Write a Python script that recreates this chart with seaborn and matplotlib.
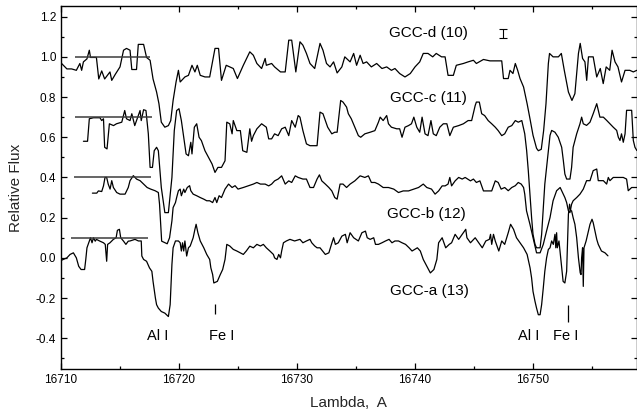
import matplotlib
matplotlib.use("Agg")
import matplotlib.pyplot as plt
import seaborn as sns
import pandas as pd
from matplotlib.ticker import MultipleLocator, FormatStrFormatter

# ---------------- data ----------------
d_x = [16710.0, 16710.5, 16710.9, 16711.3, 16711.6, 16711.75, 16711.9, 16712.2, 16712.4, 16712.5,
       16713.0, 16713.2, 16713.45, 16713.7, 16714.15, 16714.3, 16714.6, 16715.0, 16715.3, 16715.55,
       16715.85, 16716.0, 16716.4, 16716.55, 16717.0, 16717.25, 16717.55, 16717.8, 16718.1, 16718.3,
       16718.5, 16718.8, 16719.1, 16719.3, 16719.5, 16719.75, 16719.95, 16720.1, 16720.5, 16720.8,
       16721.1, 16721.35, 16721.55, 16721.8, 16722.2, 16722.6, 16723.05, 16723.35, 16723.6, 16724.0,
       16724.6, 16724.95, 16725.45, 16726.0, 16726.3, 16726.6, 16727.0, 16727.3, 16727.4, 16727.85,
       16728.1, 16728.6, 16729.0, 16729.3, 16729.55, 16729.9, 16730.25, 16730.5, 16730.8, 16731.1,
       16731.5, 16731.95, 16732.2, 16732.5, 16732.8, 16733.1, 16733.4, 16733.8, 16734.05, 16734.5,
       16734.8, 16735.05, 16735.35, 16735.6, 16735.9, 16736.3, 16736.75, 16737.2, 16737.6, 16738.0,
       16738.3, 16738.7, 16739.15, 16739.6, 16740.0, 16740.4, 16740.7, 16741.1, 16741.5, 16741.8,
       16742.25, 16742.55, 16742.8, 16743.25, 16743.5, 16744.1, 16744.5, 16744.95, 16745.2, 16745.8,
       16746.35, 16747.35, 16747.5, 16747.9, 16748.05, 16748.3, 16748.5, 16748.7, 16748.9, 16749.2,
       16749.5, 16749.75, 16750.0, 16750.3, 16750.45, 16750.7, 16750.9, 16751.1, 16751.3, 16751.4,
       16751.7, 16752.15, 16752.4, 16752.65, 16753.0, 16753.3, 16753.55, 16753.7, 16753.85, 16754.0,
       16754.2, 16754.4, 16754.55, 16754.7, 16755.1, 16755.4, 16755.7, 16755.95, 16756.2, 16756.5,
       16756.7, 16756.95, 16757.2, 16757.5, 16757.8, 16758.2, 16758.5, 16758.8]
d_y = [0.97, 0.94, 0.94, 0.933, 0.967, 0.933, 0.975, 0.99, 1.033, 0.997,
       0.997, 0.89, 0.93, 0.89, 0.925, 0.883, 0.913, 0.95, 1.033, 1.042,
       1.033, 0.937, 0.937, 1.062, 1.062, 0.997, 0.983, 0.89, 0.825, 0.767,
       0.675, 0.65, 0.658, 0.683, 0.783, 0.875, 0.933, 0.875, 0.9, 0.908,
       0.958, 0.925, 0.958, 0.908, 0.9, 0.9, 1.042, 1.042, 0.883, 0.958,
       0.942, 0.892, 0.958, 1.025, 1.008, 0.967, 0.942, 0.992, 0.958, 0.967,
       0.95, 0.925, 0.925, 1.083, 1.083, 0.925, 1.075, 1.058, 1.017, 0.967,
       0.942, 1.067, 1.033, 0.967, 0.95, 0.975, 0.92, 0.95, 1.0, 0.975,
       1.017, 0.958, 1.008, 0.967, 0.975, 0.95, 0.967, 0.942, 0.95, 0.933,
       0.942, 0.917, 0.9, 0.917, 0.95, 0.975, 1.017, 1.017, 1.0, 1.017,
       1.0, 1.0, 0.908, 0.908, 0.958, 0.967, 0.975, 0.983, 0.967, 0.987,
       0.98, 0.98, 0.892, 0.892, 0.933, 0.917, 0.967, 0.933, 0.892, 0.85,
       0.767, 0.69, 0.61, 0.545, 0.533, 0.54, 0.633, 0.767, 0.967, 1.017,
       1.0, 1.0, 1.017, 0.933, 0.825, 0.783, 0.817, 0.917, 1.017, 1.067,
       0.992, 0.975, 0.883, 1.0, 1.0, 0.9, 0.942, 0.867, 0.95, 0.933,
       1.033, 0.975, 0.95, 0.875, 0.933, 0.933, 0.925, 0.933]

c_x = [16711.9, 16712.25, 16712.4, 16712.75, 16713.3, 16713.45, 16713.6, 16713.7, 16713.9, 16714.1,
       16714.45, 16714.7, 16715.15, 16715.4, 16715.55, 16715.85, 16716.0, 16716.25, 16716.45, 16716.7,
       16716.8, 16717.0, 16717.2, 16717.4, 16717.55, 16717.75, 16717.9, 16718.1, 16718.25, 16718.5,
       16718.8, 16719.1, 16719.4, 16719.6, 16719.8, 16720.0, 16720.2, 16720.4, 16720.6, 16720.8,
       16721.0, 16721.1, 16721.3, 16721.5, 16721.7, 16721.9, 16722.2, 16722.5, 16722.8, 16723.05,
       16723.3, 16723.6, 16723.9, 16724.05, 16724.3, 16724.5, 16724.6, 16724.9, 16725.2, 16725.4,
       16725.75, 16726.0, 16726.15, 16726.3, 16726.6, 16727.0, 16727.4, 16727.6, 16727.85, 16728.1,
       16728.4, 16728.7, 16729.0, 16729.3, 16729.55, 16729.85, 16730.1, 16730.25, 16730.5, 16730.8,
       16731.1, 16731.7, 16731.95, 16732.2, 16732.6, 16732.95, 16733.2, 16733.4, 16733.7, 16733.9,
       16734.2, 16734.35, 16734.6, 16734.9, 16735.2, 16735.4, 16735.75, 16736.2, 16736.6, 16736.9,
       16737.05, 16737.3, 16737.6, 16737.75, 16738.0, 16738.45, 16738.7, 16738.9, 16739.15, 16739.45,
       16739.7, 16739.9, 16740.15, 16740.4, 16740.6, 16740.85, 16741.1, 16741.35, 16741.55, 16741.8,
       16742.1, 16742.4, 16742.7, 16742.95, 16743.25, 16743.7, 16744.1, 16744.5, 16744.8, 16745.1,
       16745.2, 16745.45, 16745.65, 16745.9, 16746.2, 16746.5, 16746.8, 16747.05, 16747.35, 16747.6,
       16747.9, 16748.2, 16748.5, 16748.75, 16749.05, 16749.3, 16749.46, 16749.6, 16749.74, 16749.88,
       16750.0, 16750.17, 16750.3, 16750.6, 16750.73, 16750.87, 16751.0, 16751.3, 16751.44, 16751.58,
       16751.86, 16752.14, 16752.43, 16752.57, 16752.7, 16752.85, 16753.13, 16753.27, 16753.4, 16753.7,
       16753.98, 16754.12, 16754.26, 16754.54, 16754.83, 16755.1, 16755.25, 16755.4, 16755.53, 16755.67,
       16755.96, 16756.24, 16756.52, 16756.8, 16757.09, 16757.23, 16757.37, 16757.5, 16757.65, 16757.8,
       16757.93, 16758.36, 16758.5, 16758.64, 16758.8]
c_y = [0.58, 0.58, 0.692, 0.697, 0.697, 0.683, 0.692, 0.55, 0.542, 0.667,
       0.658, 0.667, 0.675, 0.733, 0.692, 0.683, 0.717, 0.658, 0.692, 0.733,
       0.683, 0.737, 0.733, 0.617, 0.45, 0.45, 0.533, 0.55, 0.533, 0.35,
       0.225, 0.225, 0.4, 0.633, 0.733, 0.742, 0.683, 0.6, 0.517, 0.508,
       0.575, 0.517, 0.65, 0.667, 0.6, 0.583, 0.533, 0.5, 0.467, 0.425,
       0.45, 0.45, 0.483, 0.675, 0.667, 0.617, 0.683, 0.633, 0.633, 0.533,
       0.525, 0.642, 0.58, 0.608, 0.642, 0.667, 0.65, 0.592, 0.592, 0.617,
       0.608, 0.642, 0.65, 0.608, 0.683, 0.65, 0.708, 0.7, 0.633, 0.567,
       0.558, 0.558, 0.725, 0.717, 0.65, 0.617, 0.625, 0.625, 0.783, 0.775,
       0.75, 0.717, 0.692, 0.65, 0.608, 0.6, 0.617, 0.625, 0.633, 0.675,
       0.7, 0.683, 0.708, 0.667, 0.65, 0.642, 0.642, 0.6, 0.65, 0.658,
       0.667, 0.7, 0.65, 0.625, 0.7, 0.617, 0.608, 0.683, 0.617, 0.608,
       0.65, 0.667, 0.667, 0.608, 0.65, 0.658, 0.667, 0.683, 0.683, 0.758,
       0.775, 0.775, 0.717, 0.708, 0.683, 0.667, 0.65, 0.633, 0.608, 0.617,
       0.65, 0.658, 0.683, 0.675, 0.683, 0.617, 0.534, 0.434, 0.317, 0.2,
       0.117, 0.067, 0.05, 0.05, 0.117, 0.25, 0.367, 0.534, 0.609, 0.634,
       0.625, 0.6, 0.55, 0.484, 0.417, 0.392, 0.392, 0.45, 0.55, 0.617,
       0.667, 0.7, 0.667, 0.659, 0.675, 0.717, 0.742, 0.767, 0.734, 0.7,
       0.7, 0.684, 0.667, 0.65, 0.634, 0.6, 0.584, 0.617, 0.575, 0.617,
       0.734, 0.734, 0.584, 0.55, 0.534]

b_x = [16712.66, 16713.03, 16713.17, 16713.45, 16713.6, 16713.73, 16713.87, 16714.0, 16714.16, 16714.3,
       16714.44, 16714.72, 16715.0, 16715.43, 16715.7, 16715.85, 16716.13, 16716.4, 16716.7, 16717.0,
       16717.3, 16717.6, 16717.97, 16718.25, 16718.35, 16718.45, 16718.53, 16719.0, 16719.2, 16719.4,
       16719.5, 16719.7, 16719.8, 16719.95, 16720.1, 16720.2, 16720.4, 16720.5, 16720.7, 16720.9,
       16721.0, 16721.2, 16721.5, 16721.8, 16722.1, 16722.35, 16722.6, 16722.85, 16723.05, 16723.2,
       16723.4, 16723.6, 16723.9, 16724.2, 16724.5, 16724.75, 16725.0, 16725.45, 16725.9, 16726.3,
       16726.6, 16726.9, 16727.3, 16727.6, 16727.85, 16728.1, 16728.4, 16728.7, 16729.0, 16729.3,
       16729.55, 16729.85, 16730.1, 16730.5, 16730.8, 16731.1, 16731.4, 16731.7, 16731.9, 16732.1,
       16732.4, 16732.7, 16732.95, 16733.2, 16733.4, 16733.65, 16733.9, 16734.2, 16734.5, 16734.9,
       16735.35, 16735.75, 16736.05, 16736.3, 16736.6, 16736.9, 16737.3, 16737.75, 16738.2, 16738.6,
       16739.0, 16739.45, 16739.9, 16740.3, 16740.7, 16741.0, 16741.4, 16741.7, 16742.0, 16742.3,
       16742.55, 16742.8, 16742.95, 16743.1, 16743.4, 16743.7, 16744.0, 16744.25, 16744.7, 16744.95,
       16745.2, 16745.5, 16745.8, 16746.2, 16746.5, 16746.8, 16747.05, 16747.3, 16747.6, 16747.9,
       16748.2, 16748.5, 16748.75, 16749.0, 16749.2, 16749.3, 16749.45, 16749.74, 16750.0, 16750.17,
       16750.3, 16750.6, 16750.87, 16751.15, 16751.44, 16751.7, 16752.0, 16752.3, 16752.43, 16752.7,
       16752.85, 16753.0, 16753.13, 16753.27, 16753.4, 16753.7, 16753.98, 16754.26, 16754.54, 16754.83,
       16755.1, 16755.4, 16755.53, 16755.96, 16756.24, 16756.38, 16756.52, 16756.8, 16757.23, 16757.65,
       16757.93, 16758.07, 16758.36, 16758.8]
b_y = [0.322, 0.322, 0.333, 0.33, 0.358, 0.4, 0.4, 0.367, 0.342, 0.384,
       0.35, 0.325, 0.317, 0.317, 0.35, 0.384, 0.409, 0.392, 0.384, 0.367,
       0.35, 0.342, 0.334, 0.325, 0.267, 0.167, 0.083, 0.07, 0.1, 0.184,
       0.25, 0.275, 0.3, 0.334, 0.342, 0.309, 0.342, 0.325, 0.35, 0.359,
       0.334, 0.317, 0.309, 0.3, 0.292, 0.284, 0.284, 0.275, 0.3, 0.275,
       0.309, 0.3, 0.342, 0.367, 0.35, 0.359, 0.342, 0.35, 0.359, 0.367,
       0.375, 0.367, 0.367, 0.358, 0.367, 0.383, 0.392, 0.408, 0.367, 0.383,
       0.375, 0.408, 0.4, 0.392, 0.392, 0.35, 0.35, 0.392, 0.413, 0.383,
       0.367, 0.35, 0.333, 0.3, 0.292, 0.367, 0.367, 0.35, 0.367, 0.383,
       0.408, 0.4, 0.408, 0.375, 0.375, 0.367, 0.35, 0.35, 0.342, 0.325,
       0.333, 0.333, 0.342, 0.35, 0.367, 0.35, 0.342, 0.317, 0.333, 0.358,
       0.358, 0.367, 0.4, 0.358, 0.383, 0.4, 0.392, 0.4, 0.383, 0.392,
       0.375, 0.383, 0.333, 0.333, 0.333, 0.383, 0.375, 0.342, 0.35, 0.334,
       0.35, 0.359, 0.375, 0.367, 0.35, 0.317, 0.234, 0.167, 0.1, 0.058,
       0.025, 0.025, 0.067, 0.134, 0.2, 0.284, 0.334, 0.35, 0.334, 0.3,
       0.275, 0.234, 0.225, 0.267, 0.284, 0.3, 0.317, 0.342, 0.384, 0.384,
       0.434, 0.442, 0.384, 0.384, 0.367, 0.4, 0.384, 0.4, 0.4, 0.4,
       0.392, 0.334, 0.35, 0.35]

a_x = [16710.0, 16710.2, 16710.5, 16710.77, 16711.05, 16711.3, 16711.5, 16711.7, 16712.0, 16712.1,
       16712.2, 16712.4, 16712.5, 16712.63, 16712.75, 16712.9, 16713.0, 16713.3, 16713.6, 16713.75,
       16713.87, 16713.95, 16714.15, 16714.44, 16714.67, 16714.78, 16714.95, 16715.06, 16715.3, 16715.5,
       16715.7, 16715.85, 16716.27, 16716.56, 16716.8, 16716.85, 16717.0, 16717.25, 16717.5, 16717.7,
       16717.8, 16718.0, 16718.1, 16718.25, 16718.5, 16718.8, 16719.1, 16719.25, 16719.4, 16719.5,
       16719.7, 16719.95, 16720.1, 16720.2, 16720.3, 16720.4, 16720.5, 16720.65, 16720.8, 16720.95,
       16721.1, 16721.2, 16721.35, 16721.45, 16721.6, 16721.8, 16722.1, 16722.35, 16722.6, 16722.7,
       16722.85, 16722.95, 16723.25, 16723.5, 16723.7, 16723.9, 16724.05, 16724.3, 16724.6, 16724.9,
       16725.2, 16725.45, 16725.7, 16726.0, 16726.3, 16726.6, 16726.9, 16727.15, 16727.4, 16727.7,
       16728.0, 16728.1, 16728.3, 16728.45, 16728.6, 16728.7, 16728.85, 16729.1, 16729.4, 16729.8,
       16730.25, 16730.5, 16730.8, 16731.1, 16731.25, 16731.5, 16731.7, 16731.95, 16732.4, 16732.7,
       16732.96, 16733.1, 16733.25, 16733.5, 16733.8, 16734.1, 16734.25, 16734.5, 16734.8, 16735.2,
       16735.5, 16735.8, 16735.95, 16736.2, 16736.5, 16736.65, 16736.9, 16737.2, 16737.5, 16737.8,
       16738.05, 16738.3, 16738.6, 16738.9, 16739.2, 16739.5, 16739.75, 16740.2, 16740.45, 16740.7,
       16741.0, 16741.3, 16741.6, 16741.85, 16742.0, 16742.3, 16742.6, 16742.9, 16743.1, 16743.4,
       16743.7, 16744.0, 16744.3, 16744.4, 16744.7, 16745.1, 16745.4, 16745.7, 16746.0, 16746.3,
       16746.4, 16746.5, 16746.65, 16746.8, 16747.1, 16747.35, 16747.6, 16747.9, 16748.1, 16748.35,
       16748.6, 16748.9, 16749.2, 16749.5, 16749.75, 16749.88, 16750.0, 16750.17, 16750.3, 16750.45,
       16750.6, 16750.73, 16750.87, 16751.0, 16751.15, 16751.3, 16751.44, 16751.58, 16751.72, 16751.86,
       16751.93, 16752.0, 16752.06, 16752.2, 16752.4, 16752.55, 16752.7, 16752.85, 16753.0, 16753.1,
       16753.2, 16753.27, 16753.4, 16753.55, 16753.7, 16753.85, 16754.0, 16754.07, 16754.12, 16754.2,
       16754.26, 16754.32, 16754.5, 16754.7, 16754.83, 16755.0, 16755.1, 16755.25, 16755.4, 16755.53,
       16755.67, 16755.8, 16756.1, 16756.35]
a_y = [-0.013, -0.008, 0.0, 0.017, 0.025, 0.0, -0.042, -0.058, -0.058, -0.008,
       0.05, 0.083, 0.1, 0.075, 0.1, 0.083, 0.092, 0.083, 0.075, 0.067,
       -0.017, 0.067, 0.075, 0.092, 0.1, 0.137, 0.142, 0.1, 0.083, 0.067,
       0.083, 0.084, 0.092, 0.084, 0.084, 0.009, -0.008, -0.017, -0.05, -0.067,
       -0.117, -0.2, -0.233, -0.25, -0.267, -0.275, -0.292, -0.233, -0.033, 0.05,
       0.084, 0.084, 0.075, 0.034, 0.075, 0.034, 0.084, 0.009, 0.05, 0.059,
       0.084, 0.1, 0.142, 0.167, 0.125, 0.084, 0.05, 0.017, -0.008, -0.05,
       -0.083, -0.125, -0.117, -0.083, -0.058, -0.008, 0.067, 0.059, 0.042, 0.034,
       0.025, 0.017, 0.034, 0.058, 0.05, 0.067, 0.059, 0.067, 0.05, 0.034,
       0.017, 0.0, -0.008, 0.017, 0.0, 0.034, 0.075, 0.084, 0.092, 0.084,
       0.092, 0.075, 0.084, 0.092, 0.075, 0.059, 0.05, 0.05, 0.017, 0.025,
       0.075, 0.1, 0.067, 0.075, 0.108, 0.117, 0.075, 0.125, 0.1, 0.084,
       0.125, 0.133, 0.1, 0.092, 0.1, 0.067, 0.067, 0.075, 0.084, 0.092,
       0.075, 0.084, 0.084, 0.075, 0.067, 0.05, 0.034, 0.05, 0.034, -0.008,
       -0.042, -0.075, -0.058, -0.008, 0.075, 0.1, 0.05, 0.067, 0.075, 0.117,
       0.092, 0.117, 0.142, 0.1, 0.075, 0.1, 0.075, 0.05, 0.084, 0.092,
       0.117, 0.067, 0.117, 0.084, 0.034, 0.084, 0.067, 0.125, 0.167, 0.142,
       0.1, 0.075, 0.05, 0.017, -0.05, -0.1, -0.167, -0.217, -0.25, -0.283,
       -0.283, -0.233, -0.15, -0.067, 0.0, 0.042, 0.05, 0.084, 0.067, 0.117,
       0.05, 0.125, 0.05, 0.084, -0.033, -0.117, -0.125, -0.067, 0.217, 0.267,
       0.234, 0.234, 0.2, 0.167, 0.1, 0.0, -0.075, -0.083, 0.0, 0.05,
       -0.142, 0.05, 0.084, 0.133, 0.167, 0.192, 0.175, 0.134, 0.092, 0.067,
       0.05, 0.034, 0.025, 0.01]

series_names = ["GCC-d (10)", "GCC-c (11)", "GCC-b (12)", "GCC-a (13)"]
label_x = [16741.1, 16741.1, 16741.0, 16741.2]
label_y = [1.118, 0.793, 0.22, -0.167]

ref_levels = [1.0, 0.7, 0.4, 0.1]
ref_start = [16711.2, 16711.2, 16711.1, 16710.85]
ref_end = [16717.55, 16717.7, 16717.6, 16717.4]

line_names = ["Al I", "Fe I", "Al I", "Fe I"]
line_label_x = [16718.2, 16723.6, 16749.6, 16752.8]
line_label_y = [-0.39, -0.39, -0.39, -0.39]
fe_mark_x = [16723.05, 16752.95]
fe_mark_top = [-0.229, -0.233]
fe_mark_bottom = [-0.279, -0.317]

err_x = [16747.45]
err_y = [1.116]
err_half = [0.022]

xticks = [16710, 16720, 16730, 16740, 16750]
yticks = [-0.4, -0.2, 0.0, 0.2, 0.4, 0.6, 0.8, 1.0, 1.2]

# ---------------- plotting ----------------
sns.set_theme(style="ticks")
plt.rcParams["font.family"] = ["Liberation Sans", "DejaVu Sans"]
plt.rcParams["axes.unicode_minus"] = False

fig = plt.figure(figsize=(6.37, 4.16), dpi=100)
ax = fig.add_axes([61 / 637, 1 - 369 / 416, (636.5 - 61) / 637, (369 - 6) / 416])

frames = []
for name, xs, ys in zip(series_names, [d_x, c_x, b_x, a_x], [d_y, c_y, b_y, a_y]):
    frames.append(pd.DataFrame({"lam": xs, "flux": ys, "star": name}))
df = pd.concat(frames, ignore_index=True)

for name in series_names:
    sub = df[df["star"] == name]
    sns.lineplot(data=sub, x="lam", y="flux", color="black", lw=0.9,
                 sort=False, estimator=None, ax=ax, legend=False)

ax.hlines(ref_levels, ref_start, ref_end, color="#3c3c3c", lw=1.1)

for name, lx, ly in zip(series_names, label_x, label_y):
    ax.text(lx, ly, name, fontsize=11, ha="center", va="center", color="black")

for name, lx, ly in zip(line_names, line_label_x, line_label_y):
    ax.text(lx, ly, name, fontsize=10.5, ha="center", va="center", color="black")

ax.vlines(fe_mark_x, fe_mark_bottom, fe_mark_top, color="black", lw=0.9)

ax.errorbar(err_x, err_y, yerr=err_half, fmt="none", ecolor="black",
            elinewidth=0.8, capsize=3, capthick=0.8)

ax.set_xlim(16710, 16758.77)
ax.set_ylim(-0.553, 1.253)
ax.set_xticks(xticks)
ax.set_yticks(yticks)
ax.xaxis.set_minor_locator(MultipleLocator(5))
ax.yaxis.set_minor_locator(MultipleLocator(0.1))
ax.yaxis.set_major_formatter(FormatStrFormatter("%.1f"))
ax.ticklabel_format(axis="x", useOffset=False, style="plain")

ax.tick_params(which="both", direction="in", top=True, right=True,
               labelsize=8.5, colors="black", width=0.9)
ax.tick_params(which="major", length=4.5)
ax.tick_params(which="minor", length=2.5)
for sp in ax.spines.values():
    sp.set_linewidth(1.0)
    sp.set_color("black")

ax.set_xlabel("Lambda,  A", fontsize=11, labelpad=7)
ax.set_ylabel("Relative Flux", fontsize=11, labelpad=9)

fig.savefig("out.png", dpi=100)
